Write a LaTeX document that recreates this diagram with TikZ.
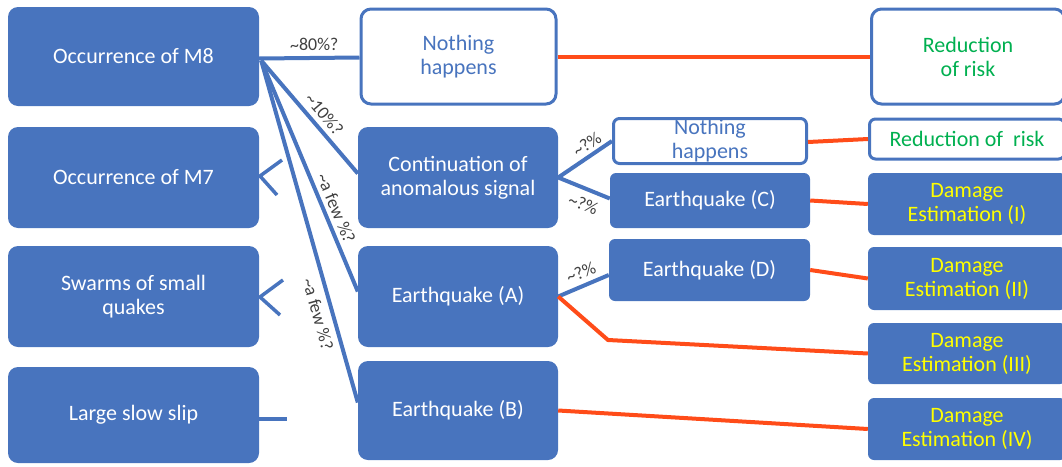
\documentclass[tikz,border=0pt]{standalone}
\usepackage{fontspec}
\setmainfont{Carlito}
\definecolor{boxblue}{RGB}{72,116,190}
\definecolor{linkred}{RGB}{255,76,25}
\definecolor{riskgreen}{RGB}{0,176,80}
\definecolor{dmgyellow}{RGB}{255,255,0}
\definecolor{lblgray}{RGB}{64,64,64}
\tikzset{
  boxfont/.style={font=\fontsize{22}{24}\selectfont},
  bluebox/.style={boxfont, fill=boxblue, draw=none, rounded corners=10pt, text=white, align=center, inner sep=0pt},
  whitebox/.style={boxfont, fill=white, draw=boxblue, line width=3pt, rounded corners=10pt, text=boxblue, align=center, inner sep=0pt},
  smallround/.style={rounded corners=6pt},
  bluelink/.style={draw=boxblue, line width=4pt},
  redlink/.style={draw=linkred, line width=4pt},
  prob/.style={font=\fontsize{18}{20}\selectfont, text=lblgray, sloped, inner sep=1pt},
}
\begin{document}
\begin{tikzpicture}[x=1pt,y=-1pt]
\useasboundingbox (0,0) rectangle (1062,466);
\clip (0,0) rectangle (1062,466);
% left column
\node[bluebox, minimum width=251pt, minimum height=99pt] (m8) at (133.5,56.5) {Occurrence of M8};
\node[bluebox, minimum width=251pt, minimum height=101pt] (m7) at (133.5,177.5) {Occurrence of M7};
\node[bluebox, minimum width=251pt, minimum height=101pt] (sw) at (133.5,296.5) {Swarms of small\\quakes};
\node[bluebox, minimum width=251pt, minimum height=96pt] (ls) at (133.5,415) {Large slow slip};
% middle column
\node[whitebox, minimum width=195pt, minimum height=95pt] (nh) at (458.5,56.5) {Nothing\\happens};
\node[bluebox, minimum width=200pt, minimum height=101pt] (cont) at (458,177.5) {Continuation of\\anomalous signal};
\node[bluebox, minimum width=200pt, minimum height=101pt] (eqa) at (458,296.5) {Earthquake (A)};
\node[bluebox, minimum width=200pt, minimum height=99pt] (eqb) at (458,410.5) {Earthquake (B)};
% third column
\node[whitebox, smallround, minimum width=193pt, minimum height=45pt] (nh2) at (710,141) {Nothing\\happens};
\node[bluebox, smallround, minimum width=200pt, minimum height=55pt] (eqc) at (710,200.5) {Earthquake (C)};
\node[bluebox, smallround, minimum width=201pt, minimum height=62pt] (eqd) at (709.5,270) {Earthquake (D)};
% right column
\node[whitebox, minimum width=193pt, minimum height=95pt, text=riskgreen] (rr1) at (968,56.5) {Reduction\\of risk};
\node[whitebox, smallround, minimum width=195pt, minimum height=40pt, text=riskgreen] (rr2) at (967,139) {Reduction of\ \ risk};
\node[bluebox, smallround, minimum width=198pt, minimum height=62pt, text=dmgyellow] (d1) at (967,204) {Damage\\Estimation (I)};
\node[bluebox, smallround, minimum width=198pt, minimum height=63pt, text=dmgyellow] (d2) at (967,278.5) {Damage\\Estimation (II)};
\node[bluebox, smallround, minimum width=198pt, minimum height=61pt, text=dmgyellow] (d3) at (967,353.5) {Damage\\Estimation (III)};
\node[bluebox, smallround, minimum width=198pt, minimum height=62pt, text=dmgyellow] (d4) at (967,429) {Damage\\Estimation (IV)};
% coordinates
\coordinate (fan) at ([xshift=2pt,yshift=-4pt]m8.east);
\coordinate (bend) at (608,340);
\coordinate (m7u) at (282,160);
\coordinate (m7v) at (260,176);
\coordinate (m7l) at (277,195);
\coordinate (swu) at (283,280);
\coordinate (swv) at (260,297);
\coordinate (swl) at (280,315);
\coordinate (lsend) at (287,419);
% blue connectors
\draw[bluelink] ([yshift=-2pt]m8.east) -- node[prob, above=4pt, pos=0.55] {\textasciitilde80\%?} ([yshift=-1pt]nh.west);
\draw[bluelink] (fan) -- node[prob, above=4pt, pos=0.55] {\textasciitilde10\%?} ([yshift=4pt]cont.west);
\draw[bluelink] (fan) -- node[prob, above=3pt, pos=0.66] {\textasciitilde a few \%?} ([yshift=5pt]eqa.west);
\draw[bluelink] (fan) -- node[prob, below=5pt, pos=0.73] {\textasciitilde a few \%?} ([yshift=8pt]eqb.west);
\draw[bluelink] (cont.east) -- node[prob, above=2pt, pos=0.65] {\textasciitilde?\%} (nh2.west);
\draw[bluelink] (cont.east) -- node[prob, below=6pt, pos=0.6] {\textasciitilde?\%} ([yshift=2pt]eqc.west);
\draw[bluelink] (eqa.east) -- node[prob, above=4pt, pos=0.55] {\textasciitilde?\%} ([yshift=-5pt]eqd.west);
% side marks
\draw[bluelink, line width=3.5pt] (m7u) -- (m7v) -- (m7l);
\draw[bluelink, line width=3.5pt] (swu) -- (swv) -- (swl);
\draw[bluelink, line width=3.5pt] ([yshift=-4pt]ls.east) -- (lsend);
% red connectors
\draw[redlink] (nh.east) -- (rr1.west);
\draw[redlink] ([yshift=-1pt]nh2.east) -- (rr2.west);
\draw[redlink] (eqc.east) -- (d1.west);
\draw[redlink] (eqd.east) -- (d2.west);
\draw[redlink] (eqa.east) -- (bend) -- (d3.west);
\draw[redlink] (eqb.east) -- (d4.west);
\end{tikzpicture}
\end{document}
